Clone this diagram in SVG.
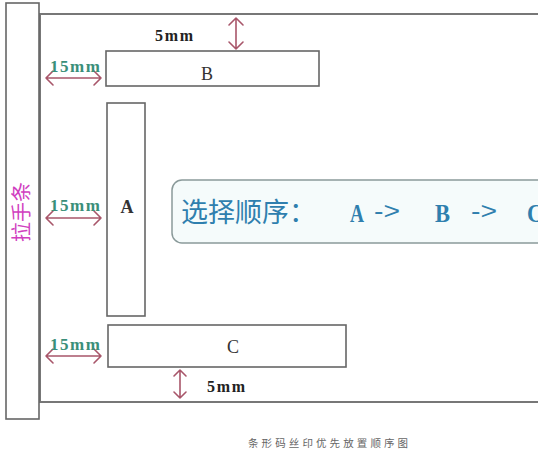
<svg xmlns="http://www.w3.org/2000/svg" width="554" height="456" viewBox="0 0 554 456">
<defs>
<style>
.box{fill:#fff;stroke:#666;stroke-width:1.6}
.frame{fill:none;stroke:#777;stroke-width:2}
.arr{fill:none;stroke:#a8566a;stroke-width:1.6;stroke-linecap:round;stroke-linejoin:round}
.lbl{font-family:"Liberation Serif",serif;font-size:18px;fill:#333;text-anchor:middle}
.dim15{font-family:"Liberation Serif",serif;font-weight:bold;font-size:17px;fill:#3a8f7a}
.dim5{font-family:"Liberation Serif",serif;font-weight:bold;font-size:16px;fill:#222}
.seq{font-family:"Noto Sans CJK SC",sans-serif;font-size:27px;fill:#2f7fae}
.seql{font-family:"Liberation Serif",serif;font-weight:bold;font-size:26px;fill:#2f7fae}
.seqa{font-family:"Liberation Sans",sans-serif;font-size:24px;fill:#2f7fae}
</style>
<clipPath id="cl"><rect x="0" y="0" width="538" height="456"/></clipPath>
</defs>
<rect width="554" height="456" fill="#fff"/>
<g id="frame">
<polyline class="frame" points="538,14 40,14 40,402 538,402"/>
</g>
<g id="handle">
<rect class="box" x="6" y="3" width="33" height="416"/>
<text transform="translate(29,212) rotate(-90)" text-anchor="middle" font-family="Noto Sans CJK SC,sans-serif" font-size="20" fill="#d13fc0">拉手条</text>
</g>
<g id="B">
<rect class="box" x="106" y="51" width="213" height="35"/>
<text class="lbl" x="207" y="80">B</text>
</g>
<g id="A">
<rect class="box" x="107" y="103" width="38" height="213"/>
<text class="lbl" x="127" y="213" font-weight="bold" font-size="16" fill="#2a2a6a">A</text>
</g>
<g id="C">
<rect class="box" x="108" y="325" width="238" height="42"/>
<text class="lbl" x="233" y="353">C</text>
</g>
<g id="seqbox" clip-path="url(#cl)">
<rect x="172" y="180" width="400" height="63" rx="10" fill="#f5fbfb" stroke="#8a9a9a" stroke-width="1.5"/>
<text class="seq" x="181" y="222">选择顺序：</text>
<text class="seql" x="350" y="222" textLength="14" lengthAdjust="spacingAndGlyphs">A</text>
<text class="seqa" x="374" y="219" textLength="26" lengthAdjust="spacingAndGlyphs">-&gt;</text>
<text class="seql" x="435" y="222" textLength="15" lengthAdjust="spacingAndGlyphs">B</text>
<text class="seqa" x="471" y="219" textLength="26" lengthAdjust="spacingAndGlyphs">-&gt;</text>
<text class="seql" x="527" y="222" textLength="16" lengthAdjust="spacingAndGlyphs">C</text>
</g>
<g id="connectors">
<path class="arr" d="M236,18 V49 M229,25 L236,18 L243,25 M229,42 L236,49 L243,42"/>
<path class="arr" d="M46,78 H101 M53,71 L46,78 L53,85 M94,71 L101,78 L94,85"/>
<path class="arr" d="M46,218 H101 M53,211 L46,218 L53,225 M94,211 L101,218 L94,225"/>
<path class="arr" d="M46,356 H101 M53,349 L46,356 L53,363 M94,349 L101,356 L94,363"/>
<path class="arr" d="M180,370 V398 M174,376 L180,370 L186,376 M174,392 L180,398 L186,392"/>
</g>
<g id="labels">
<text class="dim5" x="155" y="41" textLength="38">5mm</text>
<text class="dim15" x="50" y="72" textLength="50">15mm</text>
<text class="dim15" x="50" y="211" textLength="50">15mm</text>
<text class="dim15" x="50" y="350" textLength="50">15mm</text>
<text class="dim5" x="207" y="392" textLength="38">5mm</text>
</g>
<text x="248" y="447" font-family="Noto Sans CJK SC,sans-serif" font-size="10.5" letter-spacing="3.1" fill="#666">条形码丝印优先放置顺序图</text>
</svg>
